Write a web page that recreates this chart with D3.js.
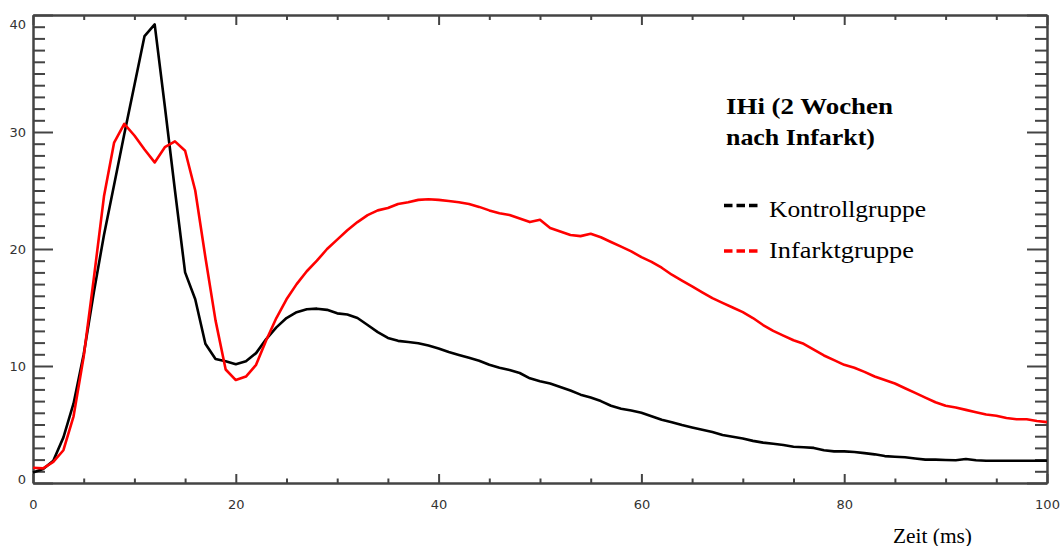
<!DOCTYPE html>
<html>
<head>
<meta charset="utf-8">
<script src="https://cdn.jsdelivr.net/npm/d3@7"></script>
<style>
  html, body { margin: 0; padding: 0; background: #fff; }
  svg { display: block; }
</style>
</head>
<body>
<svg id="chart" width="1061" height="546"></svg>
<script>
// ---- data ----
const timeMs = d3.range(0, 101); // 0..100 ms, 1 ms steps
const kontrollgruppe = [
  0.9, 1.2, 1.9, 3.9, 6.8, 11.0, 16.3, 21.2, 25.5, 29.8,
  34.0, 38.2, 39.2, 32.2, 25.0, 18.0, 15.7, 11.9, 10.6, 10.4,
  10.15, 10.4, 11.1, 12.3, 13.3, 14.1, 14.6, 14.85, 14.9, 14.8,
  14.5, 14.4, 14.1, 13.5, 12.9, 12.4, 12.15, 12.05, 11.95, 11.75,
  11.5, 11.2, 10.95, 10.7, 10.45, 10.1, 9.85, 9.65, 9.4, 8.95,
  8.7, 8.5, 8.2, 7.9, 7.55, 7.3, 7.0, 6.6, 6.35, 6.2,
  6.0, 5.7, 5.4, 5.2, 4.95, 4.75, 4.55, 4.35, 4.1, 3.95,
  3.8, 3.6, 3.45, 3.35, 3.25, 3.1, 3.05, 3.0, 2.8, 2.7,
  2.7, 2.65, 2.55, 2.45, 2.3, 2.25, 2.2, 2.1, 2.0, 2.0,
  1.97, 1.95, 2.05, 1.95, 1.9, 1.9, 1.9, 1.9, 1.9, 1.9,
  1.9
];
const infarktgruppe = [
  1.3, 1.25, 1.8, 2.8, 5.7, 10.8, 17.5, 24.5, 29.1, 30.7,
  29.7, 28.5, 27.4, 28.7, 29.2, 28.4, 25.0, 19.3, 13.9, 9.7,
  8.8, 9.1, 10.1, 12.2, 14.1, 15.7, 17.0, 18.1, 19.0, 20.0,
  20.8, 21.6, 22.3, 22.9, 23.3, 23.5, 23.85, 24.0, 24.2, 24.25,
  24.2, 24.1, 24.0, 23.85, 23.6, 23.3, 23.05, 22.9, 22.6, 22.3,
  22.5, 21.8, 21.5, 21.2, 21.1, 21.3, 21.0, 20.6, 20.2, 19.8,
  19.3, 18.9, 18.4, 17.8, 17.3, 16.8, 16.3, 15.8, 15.4, 15.0,
  14.6, 14.1, 13.5, 13.0, 12.6, 12.2, 11.9, 11.4, 10.9, 10.5,
  10.1, 9.85, 9.5, 9.1, 8.8, 8.5, 8.1, 7.7, 7.3, 6.9,
  6.6, 6.45, 6.25, 6.05, 5.85, 5.75, 5.55, 5.45, 5.45, 5.3,
  5.2
];
const xMajorTicks = [0, 20, 40, 60, 80, 100];
const xMinorTicks = d3.range(0, 101, 5).filter(v => v % 20 !== 0);
const yMajorTicks = [0, 10, 20, 30, 40];
const yMinorTicks = d3.range(0, 41, 1).filter(v => v % 10 !== 0);
const titleLines = ["IHi (2 Wochen", "nach Infarkt)"];
const seriesNames = ["Kontrollgruppe", "Infarktgruppe"];
const seriesColors = ["#000000", "#ff0000"];
const xAxisLabel = "Zeit (ms)";

// ---- layout ----
const svg = d3.select("#chart");
const L = 33, R = 1047, T = 15, B = 483;
const x = d3.scaleLinear().domain([0, 100]).range([L, R]);
const y = d3.scaleLinear().domain([0, 40]).range([B, T]);
const axisColor = "#444";

function styleAxis(g) {
  g.selectAll("path.domain").attr("stroke", axisColor).attr("stroke-width", 2);
  g.selectAll(".tick line").attr("stroke", axisColor).attr("stroke-width", 2);
  g.selectAll(".tick text")
    .attr("fill", "#333")
    .attr("font-family", "DejaVu Sans, sans-serif")
    .attr("font-size", 13);
}

// bottom axis (major with labels)
svg.append("g").attr("transform", `translate(0,${B})`)
  .call(d3.axisBottom(x).tickValues(xMajorTicks).tickFormat(d3.format("d"))
    .tickSizeInner(-9).tickSizeOuter(0).tickPadding(17))
  .call(styleAxis);
svg.append("g").attr("transform", `translate(0,${B})`)
  .call(d3.axisBottom(x).tickValues(xMinorTicks).tickFormat("")
    .tickSizeInner(-4.5).tickSizeOuter(0))
  .call(styleAxis);
// top axis
svg.append("g").attr("transform", `translate(0,${T})`)
  .call(d3.axisTop(x).tickValues(xMajorTicks).tickFormat("")
    .tickSizeInner(-10).tickSizeOuter(0))
  .call(styleAxis);
svg.append("g").attr("transform", `translate(0,${T})`)
  .call(d3.axisTop(x).tickValues(xMinorTicks).tickFormat("")
    .tickSizeInner(-5).tickSizeOuter(0))
  .call(styleAxis);
// left axis
const gy = svg.append("g").attr("transform", `translate(${L},0)`)
  .call(d3.axisLeft(y).tickValues(yMajorTicks).tickFormat(d3.format("d"))
    .tickSizeInner(-20).tickSizeOuter(0).tickPadding(7))
  .call(styleAxis);
gy.selectAll(".tick text").attr("dy", d => d === 40 ? "1.0em" : (d === 0 ? "0.05em" : "0.32em"));
svg.append("g").attr("transform", `translate(${L},0)`)
  .call(d3.axisLeft(y).tickValues(yMinorTicks).tickFormat("")
    .tickSizeInner(-12).tickSizeOuter(0))
  .call(styleAxis);
// right axis
svg.append("g").attr("transform", `translate(${R},0)`)
  .call(d3.axisRight(y).tickValues(yMajorTicks).tickFormat("")
    .tickSizeInner(-20).tickSizeOuter(0))
  .call(styleAxis);
svg.append("g").attr("transform", `translate(${R},0)`)
  .call(d3.axisRight(y).tickValues(yMinorTicks).tickFormat("")
    .tickSizeInner(-12).tickSizeOuter(0))
  .call(styleAxis);

// ---- lines ----
const line = d3.line().x((d, i) => x(timeMs[i])).y(d => y(d));
[kontrollgruppe, infarktgruppe].forEach((vals, k) => {
  svg.append("path")
    .datum(vals)
    .attr("fill", "none")
    .attr("stroke", seriesColors[k])
    .attr("stroke-width", 2.6)
    .attr("stroke-linejoin", "round")
    .attr("d", line);
});

// ---- title & legend ----
const serif = "Liberation Serif, Times New Roman, serif";
const titleBase = [114, 144.5];
const titleLen = [167, 149];
titleLines.forEach((t, i) => {
  svg.append("text")
    .attr("x", 726).attr("y", titleBase[i])
    .attr("font-family", serif).attr("font-weight", "bold").attr("font-size", 24)
    .attr("textLength", titleLen[i]).attr("lengthAdjust", "spacingAndGlyphs")
    .attr("fill", "#000")
    .text(t);
});
const legBase = [217, 258];
const legDashY = [205.5, 251];
const legLen = [157, 145];
seriesNames.forEach((name, i) => {
  svg.append("line")
    .attr("x1", 724).attr("x2", 759)
    .attr("y1", legDashY[i]).attr("y2", legDashY[i])
    .attr("stroke", seriesColors[i]).attr("stroke-width", 3.5)
    .attr("stroke-dasharray", "8.5,4");
  svg.append("text")
    .attr("x", 769).attr("y", legBase[i])
    .attr("font-family", serif).attr("font-size", 24)
    .attr("textLength", legLen[i]).attr("lengthAdjust", "spacingAndGlyphs")
    .attr("fill", "#000")
    .text(name);
});

// x axis label
svg.append("text")
  .attr("x", 893).attr("y", 543)
  .attr("font-family", serif).attr("font-size", 20)
  .attr("textLength", 79).attr("lengthAdjust", "spacingAndGlyphs")
  .attr("fill", "#000")
  .text(xAxisLabel);
</script>
</body>
</html>
